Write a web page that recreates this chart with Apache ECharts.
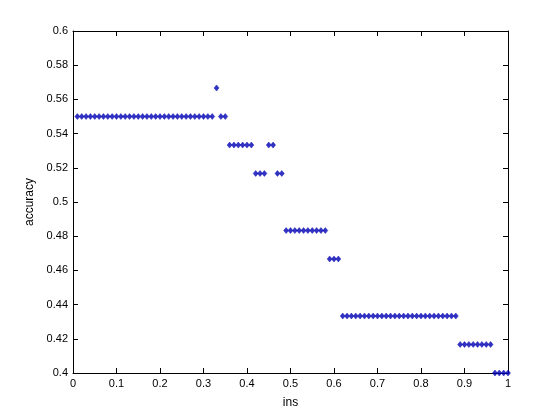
<!DOCTYPE html>
<html>
<head>
<meta charset="utf-8">
<script src="https://cdn.jsdelivr.net/npm/echarts@6/dist/echarts.min.js"></script>
<style>html,body{margin:0;padding:0;background:#fff;}#c{width:560px;height:420px;}</style>
</head>
<body>
<div id="c"></div>
<script>
var ins = [
  0.01,0.02,0.03,0.04,0.05,0.06,0.07,0.08,0.09,0.10,
  0.11,0.12,0.13,0.14,0.15,0.16,0.17,0.18,0.19,0.20,
  0.21,0.22,0.23,0.24,0.25,0.26,0.27,0.28,0.29,0.30,
  0.31,0.32,0.33,0.34,0.35,0.36,0.37,0.38,0.39,0.40,
  0.41,0.42,0.43,0.44,0.45,0.46,0.47,0.48,0.49,0.50,
  0.51,0.52,0.53,0.54,0.55,0.56,0.57,0.58,0.59,0.60,
  0.61,0.62,0.63,0.64,0.65,0.66,0.67,0.68,0.69,0.70,
  0.71,0.72,0.73,0.74,0.75,0.76,0.77,0.78,0.79,0.80,
  0.81,0.82,0.83,0.84,0.85,0.86,0.87,0.88,0.89,0.90,
  0.91,0.92,0.93,0.94,0.95,0.96,0.97,0.98,0.99,1.00
];
var accuracy = [
  0.55,0.55,0.55,0.55,0.55,0.55,0.55,0.55,0.55,0.55,
  0.55,0.55,0.55,0.55,0.55,0.55,0.55,0.55,0.55,0.55,
  0.55,0.55,0.55,0.55,0.55,0.55,0.55,0.55,0.55,0.55,
  0.55,0.55,0.5667,0.55,0.55,0.5333,0.5333,0.5333,0.5333,0.5333,
  0.5333,0.5167,0.5167,0.5167,0.5333,0.5333,0.5167,0.5167,0.4833,0.4833,
  0.4833,0.4833,0.4833,0.4833,0.4833,0.4833,0.4833,0.4833,0.4667,0.4667,
  0.4667,0.4333,0.4333,0.4333,0.4333,0.4333,0.4333,0.4333,0.4333,0.4333,
  0.4333,0.4333,0.4333,0.4333,0.4333,0.4333,0.4333,0.4333,0.4333,0.4333,
  0.4333,0.4333,0.4333,0.4333,0.4333,0.4333,0.4333,0.4333,0.4167,0.4167,
  0.4167,0.4167,0.4167,0.4167,0.4167,0.4167,0.4,0.4,0.4,0.4
];
var xLabel = 'ins';
var yLabel = 'accuracy';

var pts = ins.map(function (x, i) { return [x, accuracy[i]]; });
var font = 'Liberation Sans, Arial, Helvetica, sans-serif';
var axisLine = { show: true, onZero: false, lineStyle: { color: '#000', width: 1 } };
var tick = { show: true, inside: true, length: 5, lineStyle: { color: '#000' } };

var chart = echarts.init(document.getElementById('c'), null, { renderer: 'canvas' });
chart.setOption({
  backgroundColor: '#ffffff',
  animation: false,
  grid: { left: 73, right: 52, top: 31, bottom: 47, containLabel: false },
  xAxis: [
    {
      type: 'value', min: 0, max: 1, interval: 0.1, position: 'bottom',
      name: xLabel, nameLocation: 'middle', nameGap: 24,
      nameTextStyle: { color: '#000', fontSize: 12, fontFamily: font },
      axisLine: axisLine, axisTick: tick,
      axisLabel: { color: '#000', fontSize: 11, fontFamily: font, margin: 5 },
      splitLine: { show: false }
    },
    {
      type: 'value', min: 0, max: 1, interval: 0.1, position: 'top',
      axisLine: axisLine, axisTick: tick,
      axisLabel: { show: false }, splitLine: { show: false }
    }
  ],
  yAxis: [
    {
      type: 'value', min: 0.4, max: 0.6, interval: 0.02, position: 'left',
      name: yLabel, nameLocation: 'middle', nameGap: 34, nameRotate: 90,
      nameTextStyle: { color: '#000', fontSize: 12, fontFamily: font },
      axisLine: axisLine, axisTick: tick,
      axisLabel: { color: '#000', fontSize: 11, fontFamily: font, margin: 5 },
      splitLine: { show: false }
    },
    {
      type: 'value', min: 0.4, max: 0.6, interval: 0.02, position: 'right',
      axisLine: axisLine, axisTick: tick,
      axisLabel: { show: false }, splitLine: { show: false }
    }
  ],
  series: [{
    type: 'scatter',
    xAxisIndex: 0, yAxisIndex: 0,
    data: pts,
    symbol: 'diamond',
    symbolSize: [5, 6],
    itemStyle: { color: '#0000b4', borderColor: '#0000b4', borderWidth: 0.5 },
    clip: false
  }]
});
</script>
</body>
</html>
